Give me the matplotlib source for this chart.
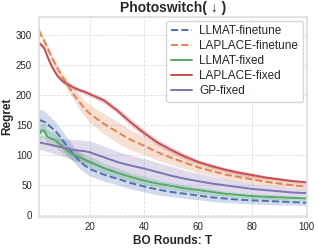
import matplotlib
matplotlib.use("Agg")
import matplotlib.pyplot as plt
import numpy as np
import seaborn as sns

# BO rounds where values were read
rounds = [1, 2, 3, 4, 5, 6, 7, 8, 10, 12, 14, 16, 18, 20, 25, 30, 35, 40, 45, 50,
          55, 60, 65, 70, 75, 80, 85, 90, 95, 100]

llmat_ft = [158, 157, 155, 152, 148, 144, 140, 135, 123, 111, 100, 90, 82, 76, 67, 60,
            53, 47, 42, 38, 35, 32, 29, 27, 25, 24, 23, 22, 21, 20]
llmat_ft_sd = [18, 18, 18, 17, 17, 16, 16, 15, 15, 14, 13, 13, 12, 12, 11, 10,
               10, 9, 9, 8, 8, 7, 7, 7, 6, 6, 6, 6, 5, 5]

laplace_ft = [308, 298, 290, 280, 270, 260, 252, 243, 228, 214, 200, 188, 177, 168, 152, 138,
              125, 115, 104, 95, 87, 79, 73, 67, 63, 59, 55, 52, 49, 47]
laplace_ft_sd = [5, 5, 6, 6, 6, 7, 7, 7, 8, 9, 10, 12, 13, 15, 17, 18,
                 17, 15, 13, 12, 10, 9, 8, 8, 7, 7, 6, 6, 5, 5]

llmat_fx = [133, 141, 140, 131, 128, 126, 124, 120, 113, 105, 100, 96, 92, 88, 78, 70,
            63, 57, 52, 48, 44, 41, 38, 35, 33, 31, 30, 29, 28, 27]
llmat_fx_sd = [12, 12, 12, 12, 12, 12, 11, 11, 11, 10, 10, 10, 9, 9, 8, 8,
               7, 7, 6, 6, 5, 5, 5, 4, 4, 4, 4, 4, 3, 3]

laplace_fx = [287, 283, 278, 266, 255, 246, 238, 231, 222, 217, 212, 208, 205, 201, 191, 174,
              154, 136, 120, 108, 97, 88, 81, 75, 70, 66, 62, 59, 56, 54]
laplace_fx_sd = [4, 4, 4, 4, 4, 4, 4, 4, 4, 4, 4, 4, 4, 4, 5, 5,
                 6, 6, 5, 5, 5, 4, 4, 4, 4, 4, 3, 3, 3, 3]

gp_fx = [120, 120, 119, 118, 117, 116, 115, 114, 112, 110, 108, 107, 106, 104, 96, 88,
         82, 77, 71, 65, 60, 56, 52, 49, 46, 43, 41, 39, 37, 36]
gp_fx_sd = [12, 12, 12, 13, 13, 13, 14, 14, 15, 16, 17, 18, 18, 19, 19, 18,
            17, 17, 16, 16, 14, 13, 12, 11, 10, 9, 8, 8, 7, 7]

sns.set_theme(style="whitegrid")
plt.rcParams['font.family'] = ['Liberation Sans', 'DejaVu Sans']

fig = plt.figure(figsize=(3.19, 2.48), dpi=100)
ax = fig.add_axes([0.122, 0.127, 0.839, 0.804])

pal = sns.color_palette("deep")
series = [
    ("LLMAT-finetune", llmat_ft, llmat_ft_sd, pal[0], "--"),
    ("LAPLACE-finetune", laplace_ft, laplace_ft_sd, pal[1], "--"),
    ("LLMAT-fixed", llmat_fx, llmat_fx_sd, pal[2], "-"),
    ("LAPLACE-fixed", laplace_fx, laplace_fx_sd, pal[3], "-"),
    ("GP-fixed", gp_fx, gp_fx_sd, pal[4], "-"),
]
x = np.array(rounds)
for name, m, s, c, ls in series:
    m = np.array(m)
    s = np.array(s)
    ax.fill_between(x, m - s, m + s, color=c, alpha=0.25, linewidth=0)
    ax.plot(x, m, linestyle=ls, color=c, linewidth=1.4, label=name)

ax.set_xlim(1, 100)
ax.set_ylim(-3, 330)
ax.set_xticks([20, 40, 60, 80, 100])
ax.set_yticks([0, 50, 100, 150, 200, 250, 300])
ax.tick_params(axis='x', labelsize=7, pad=4, length=0)
ax.tick_params(axis='y', labelsize=7, pad=5, length=0)
ax.grid(True, linestyle='--', linewidth=0.6, color='#dddddd')
for sp in ax.spines.values():
    sp.set_color('#dddddd')
    sp.set_linewidth(1.2)

ax.set_title("Photoswitch( ↓ )", fontsize=10, fontweight='bold', pad=4)
ax.set_xlabel("BO Rounds: T", fontsize=8.5, fontweight='bold', labelpad=2)
ax.set_ylabel("Regret", fontsize=8.5, fontweight='bold', labelpad=2)

ax.legend(loc='upper right', fontsize=8.5, handlelength=1.8, labelspacing=0.25,
          borderpad=0.4, handletextpad=0.6, frameon=True, fancybox=True,
          borderaxespad=0.3)

fig.savefig("out.png", dpi=100)
